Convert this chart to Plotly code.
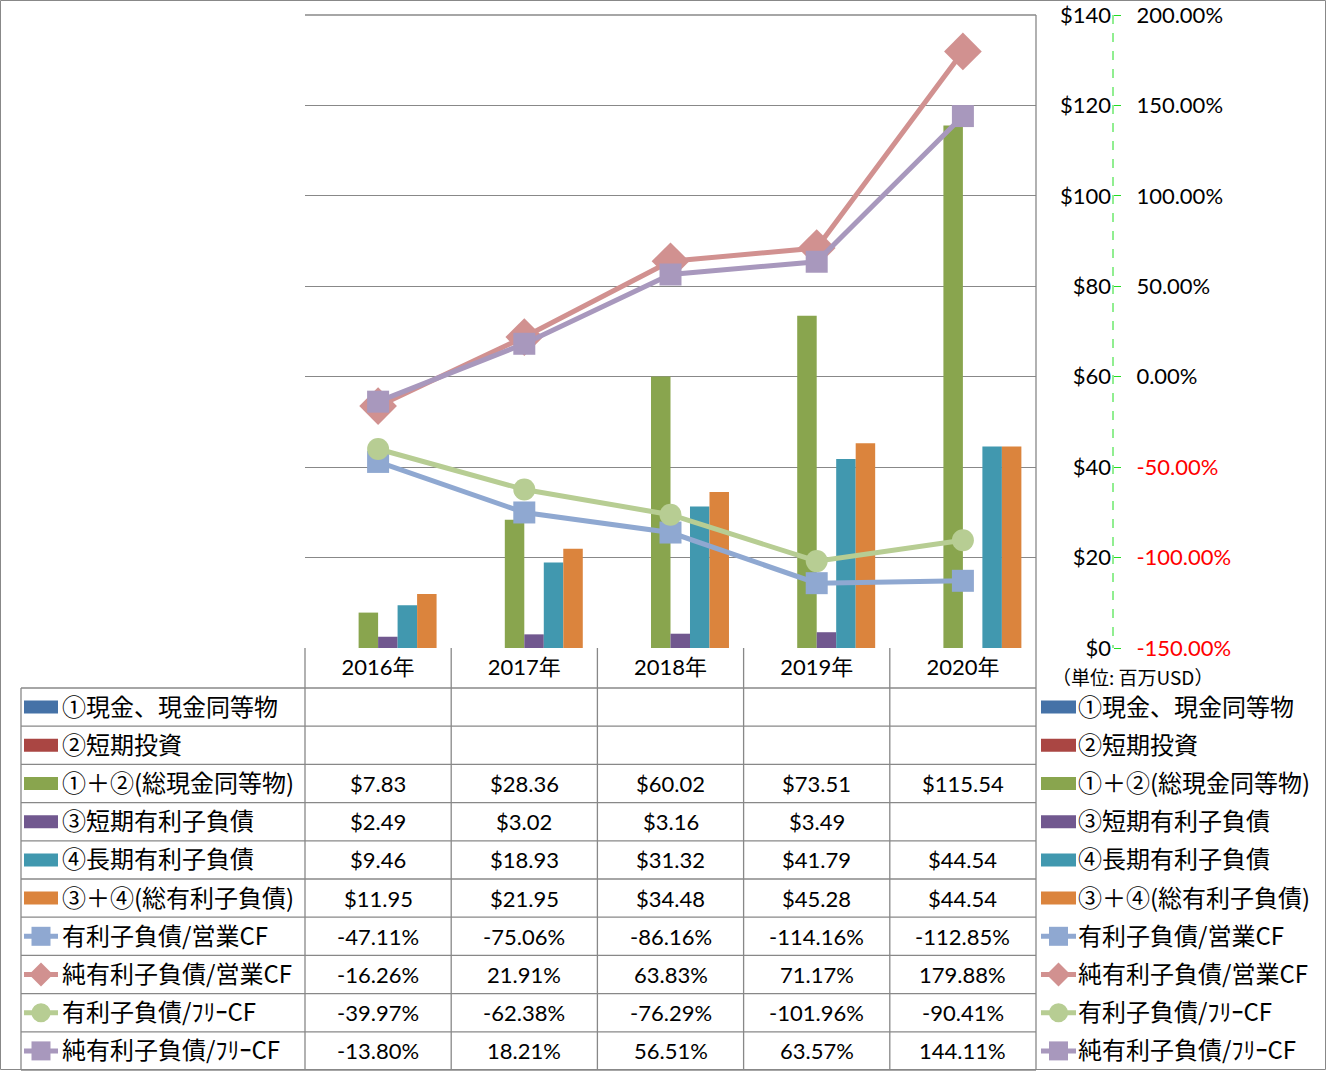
import plotly.graph_objects as go

# ---------------- data ----------------
years = ["2016年", "2017年", "2018年", "2019年", "2020年"]

cash = [None, None, None, None, None]            # ①現金、現金同等物 (blank)
short_inv = [None, None, None, None, None]       # ②短期投資 (blank)
total_cash = [7.83, 28.36, 60.02, 73.51, 115.54]  # ①＋②
short_debt = [2.49, 3.02, 3.16, 3.49, None]       # ③
long_debt = [9.46, 18.93, 31.32, 41.79, 44.54]    # ④
total_debt = [11.95, 21.95, 34.48, 45.28, 44.54]  # ③＋④

debt_ocf = [-47.11, -75.06, -86.16, -114.16, -112.85]
netdebt_ocf = [-16.26, 21.91, 63.83, 71.17, 179.88]
debt_fcf = [-39.97, -62.38, -76.29, -101.96, -90.41]
netdebt_fcf = [-13.80, 18.21, 56.51, 63.57, 144.11]

bar_names = ["①現金、現金同等物", "②短期投資", "①＋②(総現金同等物)",
             "③短期有利子負債", "④長期有利子負債", "③＋④(総有利子負債)"]
line_names = ["有利子負債/営業CF", "純有利子負債/営業CF",
              "有利子負債/ﾌﾘｰCF", "純有利子負債/ﾌﾘｰCF"]

usd_ticks = [0, 20, 40, 60, 80, 100, 120, 140]
pct_ticks = [-150, -100, -50, 0, 50, 100, 150, 200]
unit_label = "（単位: 百万USD）"

# ---------------- styling ----------------
W, H = 1326, 1071
FONT = "Lato, 'Noto Sans CJK JP', sans-serif"
LABEL_FONT = "'Noto Sans CJK JP', Lato, sans-serif"
bar_colors = ["#4572A7", "#AA4643", "#89A54E", "#71588F", "#4198AF", "#DB843D"]
line_colors = ["#8FA8D1", "#D19190", "#B7CD93", "#A898BD"]
line_symbols = ["square", "diamond", "circle", "square"]
GRID = "#888888"


def px(x):
    return x / W


def py(y):
    return 1 - y / H


bar_data = [cash, short_inv, total_cash, short_debt, long_debt, total_debt]
line_data = [debt_ocf, netdebt_ocf, debt_fcf, netdebt_fcf]

fig = go.Figure()
for name, vals, col in zip(bar_names, bar_data, bar_colors):
    fig.add_trace(go.Bar(x=years, y=vals, name=name, marker=dict(color=col, line=dict(width=0)),
                         yaxis="y"))
for name, vals, col, sym in zip(line_names, line_data, line_colors, line_symbols):
    fig.add_trace(go.Scatter(x=years, y=vals, name=name, mode="lines+markers", yaxis="y2",
                             line=dict(color=col, width=5),
                             marker=dict(color=col, size=22 if sym != "diamond" else 29,
                                         symbol=sym, line=dict(width=0))))

# ---------------- table geometry ----------------
x_left, x_plot_l, x_plot_r = 21, 305, 1036
y_top, y_zero = 15, 648
header_bottom = 688
row_h = 38.2
n_rows = 10
col_edges = [305 + i * (x_plot_r - x_plot_l) / 5 for i in range(6)]

shapes = []
annotations = []
# outer border
shapes.append(dict(type="rect", xref="paper", yref="paper", x0=px(0.5), x1=px(1325.5),
                   y0=py(1069.5), y1=py(0.5), line=dict(color=GRID, width=1)))
# top gridline of plot area
shapes.append(dict(type="line", xref="paper", yref="paper", x0=px(x_plot_l), x1=px(x_plot_r),
                   y0=py(y_top), y1=py(y_top), line=dict(color=GRID, width=1.3), layer="below"))
# right vertical line of plot/table
shapes.append(dict(type="line", xref="paper", yref="paper", x0=px(x_plot_r), x1=px(x_plot_r),
                   y0=py(y_top), y1=py(1069.5), line=dict(color=GRID, width=1.3)))
# header vertical lines
for xe in col_edges[:-1]:
    shapes.append(dict(type="line", xref="paper", yref="paper", x0=px(xe), x1=px(xe),
                       y0=py(y_zero), y1=py(1069.5), line=dict(color=GRID, width=1.3)))
# left column border
shapes.append(dict(type="line", xref="paper", yref="paper", x0=px(x_left), x1=px(x_left),
                   y0=py(header_bottom), y1=py(1069.5), line=dict(color=GRID, width=1.3)))
# horizontal row lines
for i in range(n_rows + 1):
    yy = header_bottom + i * row_h
    shapes.append(dict(type="line", xref="paper", yref="paper", x0=px(x_left), x1=px(x_plot_r),
                       y0=py(yy), y1=py(yy), line=dict(color=GRID, width=1.3)))
# green dashed axis line
shapes.append(dict(type="line", xref="paper", yref="paper", x0=px(1113), x1=px(1113),
                   y0=py(y_top), y1=py(y_zero), line=dict(color="#22DD22", width=1, dash="dash")))


def legend_key(cx_line0, cx_line1, cy, kind, color, symbol=None):
    if kind == "bar":
        shapes.append(dict(type="rect", xref="paper", yref="paper", x0=px(cx_line0), x1=px(cx_line1),
                           y0=py(cy + 6.5), y1=py(cy - 6.5), fillcolor=color, line=dict(width=0)))
    else:
        shapes.append(dict(type="line", xref="paper", yref="paper", x0=px(cx_line0), x1=px(cx_line1),
                           y0=py(cy), y1=py(cy), line=dict(color=color, width=5)))
        cx = (cx_line0 + cx_line1) / 2
        r = 9.5
        if symbol == "square":
            shapes.append(dict(type="rect", xref="paper", yref="paper", x0=px(cx - r), x1=px(cx + r),
                               y0=py(cy + r), y1=py(cy - r), fillcolor=color, line=dict(width=0)))
        elif symbol == "circle":
            shapes.append(dict(type="circle", xref="paper", yref="paper", x0=px(cx - r), x1=px(cx + r),
                               y0=py(cy + r), y1=py(cy - r), fillcolor=color, line=dict(width=0)))
        else:
            d = 12
            path = (f"M {px(cx - d)} {py(cy)} L {px(cx)} {py(cy - d)} L {px(cx + d)} {py(cy)} "
                    f"L {px(cx)} {py(cy + d)} Z")
            shapes.append(dict(type="path", xref="paper", yref="paper", path=path,
                               fillcolor=color, line=dict(width=0)))


row_names = bar_names + line_names
row_vals = bar_data + line_data
row_kind = ["bar"] * 6 + ["line"] * 4
row_colors = bar_colors + line_colors
row_syms = [None] * 6 + line_symbols

for i in range(n_rows):
    cy = header_bottom + (i + 0.5) * row_h
    legend_key(24, 58, cy, row_kind[i], row_colors[i], row_syms[i])
    annotations.append(dict(text=row_names[i], xref="paper", yref="paper", x=px(60), y=py(cy - 2),
                            xanchor="left", yanchor="middle", showarrow=False,
                            font=dict(family=LABEL_FONT, size=24, color="#000")))
    legend_key(1041, 1076, cy, row_kind[i], row_colors[i], row_syms[i])
    annotations.append(dict(text=row_names[i], xref="paper", yref="paper", x=px(1076), y=py(cy - 2),
                            xanchor="left", yanchor="middle", showarrow=False,
                            font=dict(family=LABEL_FONT, size=24, color="#000")))
    for yr, v in zip(years, row_vals[i]):
        if v is None:
            continue
        txt = f"${v:.2f}" if row_kind[i] == "bar" else f"{v:.2f}%"
        annotations.append(dict(text=txt, xref="x", yref="paper", x=yr, y=py(cy),
                                xanchor="center", yanchor="middle", showarrow=False,
                                font=dict(family=FONT, size=22, color="#000")))

annotations.append(dict(text=unit_label, xref="paper", yref="paper", x=px(1050), y=py(676),
                        xanchor="left", yanchor="middle", showarrow=False,
                        font=dict(family="'Noto Sans CJK JP', sans-serif", size=19, color="#000")))

usd_text = [f"${v}" for v in usd_ticks]
pct_text = []
for v in pct_ticks:
    s = f"{v:.2f}%"
    pct_text.append(f"<span style='color:#FF0000'>{s}</span>" if v < 0 else s)

fig.update_layout(
    width=W, height=H,
    margin=dict(l=0, r=0, t=0, b=0, autoexpand=False),
    paper_bgcolor="white", plot_bgcolor="white",
    showlegend=False,
    barmode="group", bargap=0.2, bargroupgap=0,
    font=dict(family=FONT, size=22, color="#000"),
    xaxis=dict(domain=[px(x_plot_l), px(x_plot_r)], type="category", categoryorder="array",
               categoryarray=years, range=[-0.5, 4.5], showgrid=False, showline=False,
               zeroline=False, ticks="", tickfont=dict(family=FONT, size=22),
               ticklabelstandoff=4, anchor="y", automargin=False),
    yaxis=dict(domain=[py(y_zero), py(y_top)], range=[0, 140], tickvals=usd_ticks,
               ticktext=usd_text, side="left", anchor="free", position=px(1113),
               showgrid=True, gridcolor=GRID, gridwidth=1.3, zeroline=False, showline=False,
               ticks="", ticklabelstandoff=2, tickfont=dict(family=FONT, size=22),
               automargin=False),
    yaxis2=dict(domain=[py(y_zero), py(y_top)], range=[-150, 200], tickvals=pct_ticks,
                ticktext=pct_text, overlaying="y", side="right", anchor="free",
                position=px(1113), showgrid=False, zeroline=False, showline=False,
                ticks="outside", ticklen=7, tickcolor="#22DD22", tickwidth=1,
                ticklabelstandoff=11, tickfont=dict(family=FONT, size=22), automargin=False),
    shapes=shapes,
    annotations=annotations,
)

fig.write_html("out.html")
